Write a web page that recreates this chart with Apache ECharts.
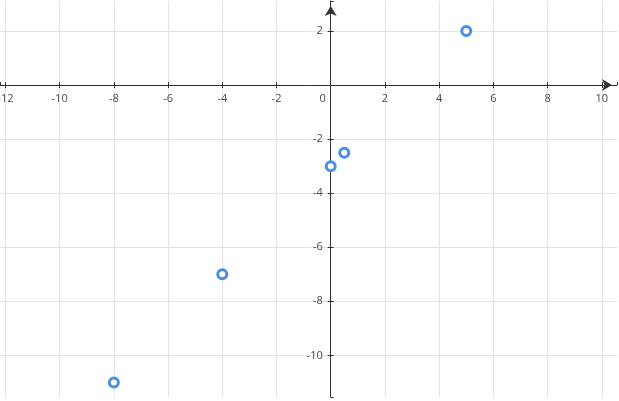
<!DOCTYPE html>
<html>
<head>
<meta charset="utf-8">
<script src="https://cdn.jsdelivr.net/npm/echarts@6/dist/echarts.min.js"></script>
<style>
html,body{margin:0;padding:0;background:#fff;}
#chart{width:619px;height:401px;}
</style>
</head>
<body>
<div id="chart"></div>
<script>
// data
const xValues = [5, 0.5, 0, -4, -8];
const yValues = [2, -2.5, -3, -7, -11];
// axis extents
const xMin = -12.2, xMax = 10.56;
const yMin = -11.54, yMax = 3.11;

const points = xValues.map((x, i) => [x, yValues[i]]);
const axisColor = '#333';
const labelStyle = { fontFamily: 'Open Sans', fontSize: 11, color: '#4a4a4a' };
const G = { left: 0, right: 2, top: 1, bottom: 4 };
const W = 619, H = 401;

function buildOption(xOff, yOff) {
  return {
    animation: false,
    grid: { left: G.left, right: G.right, top: G.top, bottom: G.bottom, containLabel: false, outerBoundsMode: 'none' },
    xAxis: [
      { // main axis line (onZero) + upward ticks + grid
        type: 'value', min: xMin, max: xMax, splitNumber: 11, position: 'bottom',
        axisLine: { onZero: true, lineStyle: { color: axisColor, width: 1 }, symbol: ['none', 'arrow'], symbolSize: [9, 10], symbolOffset: [0, -5] },
        axisTick: { show: true, inside: true, length: 3, lineStyle: { color: axisColor } },
        axisLabel: { show: false },
        splitLine: { show: true, showMinLine: false, showMaxLine: false, lineStyle: { color: '#e3e3e3', width: 1 } }
      },
      { // labels + downward ticks
        type: 'value', min: xMin, max: xMax, splitNumber: 11, position: 'top', offset: xOff,
        axisLine: { show: false, onZero: false },
        axisTick: { show: true, inside: true, length: 3, lineStyle: { color: axisColor } },
        axisLabel: Object.assign({ inside: true, margin: 8, showMinLabel: false, showMaxLabel: false,
          formatter: v => v === 0 ? '{z|0}' : String(v),
          rich: { z: Object.assign({ padding: [0, 16, 0, 0] }, labelStyle) } }, labelStyle),
        splitLine: { show: false }
      }
    ],
    yAxis: [
      {
        type: 'value', min: yMin, max: yMax, splitNumber: 7, position: 'left',
        axisLine: { onZero: true, lineStyle: { color: axisColor, width: 1 }, symbol: ['none', 'arrow'], symbolSize: [9, 10], symbolOffset: [0, -5] },
        axisTick: { show: true, inside: true, length: 3, lineStyle: { color: axisColor } },
        axisLabel: { show: false },
        splitLine: { show: true, showMinLine: false, showMaxLine: false, lineStyle: { color: '#e3e3e3', width: 1 } }
      },
      {
        type: 'value', min: yMin, max: yMax, splitNumber: 7, position: 'right', offset: yOff,
        axisLine: { show: false, onZero: false },
        axisTick: { show: true, inside: true, length: 3, lineStyle: { color: axisColor } },
        axisLabel: Object.assign({ inside: true, margin: 8, showMinLabel: false, showMaxLabel: false,
          formatter: v => v === 0 ? '' : String(v) }, labelStyle),
        splitLine: { show: false }
      }
    ],
    series: [{
      type: 'scatter',
      xAxisIndex: 0, yAxisIndex: 0,
      data: points,
      symbol: 'circle',
      symbolSize: 9,
      itemStyle: { color: '#fff', borderColor: '#4a90e2', borderWidth: 3, opacity: 1 },
      z: 10
    }]
  };
}

const chart = echarts.init(document.getElementById('chart'));
chart.setOption(buildOption(0, 0));
const p0 = chart.convertToPixel({ xAxisIndex: 0, yAxisIndex: 0 }, [0, 0]);
const xOff = G.top - p0[1];
const yOff = p0[0] - (W - G.right);
chart.setOption(buildOption(xOff, yOff));
</script>
</body>
</html>
